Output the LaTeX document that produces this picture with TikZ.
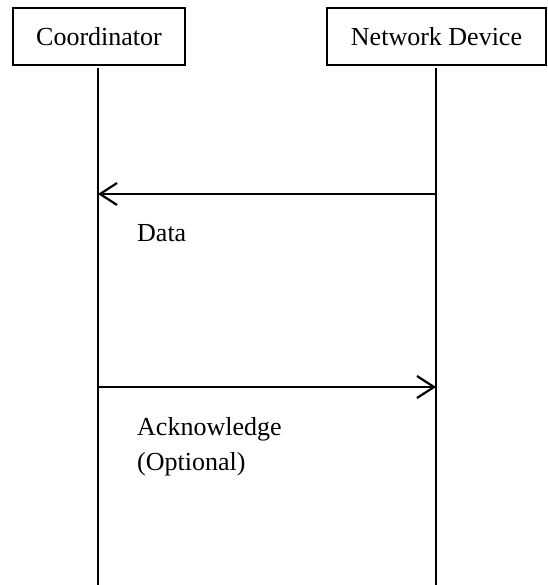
\documentclass[tikz,border=0pt]{standalone}
\usepackage{fontspec}
\setmainfont{Liberation Serif}
\usetikzlibrary{arrows.meta}
\begin{document}
\begin{tikzpicture}[x=1pt,y=-1pt,
  actor/.style={draw,line width=1.2pt,inner sep=0pt,font=\fontsize{26}{30}\selectfont},
  life/.style={line width=1.8pt},
  msg/.style={line width=2.2pt,-{Straight Barb[length=17pt,width=22pt,line width=2.2pt]}},
  lbl/.style={anchor=west,inner sep=0pt,align=left,font=\fontsize{26}{35}\selectfont}]
\useasboundingbox (0,0) rectangle (547,585);
\node[actor,minimum width=172pt,minimum height=57pt] (coord) at (99,36.5) {Coordinator};
\node[actor,minimum width=219pt,minimum height=57pt] (dev) at (436.5,36.5) {Network Device};
\coordinate (ctop) at (98,68);
\coordinate (cbot) at (98,585);
\coordinate (dtop) at (436,68);
\coordinate (dbot) at (436,585);
\draw[life] (ctop) -- (cbot);
\draw[life] (dtop) -- (dbot);
\coordinate (d1) at (436,194);
\coordinate (c1) at (98,194);
\coordinate (c2) at (98,387);
\coordinate (d2) at (436,387);
\draw[msg] (d1) -- (c1);
\draw[msg] (c2) -- (d2);
\node[lbl] (data) at (137,233) {Data};
\node[lbl] (ack) at (137,447) {Acknowledge\\(Optional)};
\end{tikzpicture}
\end{document}
